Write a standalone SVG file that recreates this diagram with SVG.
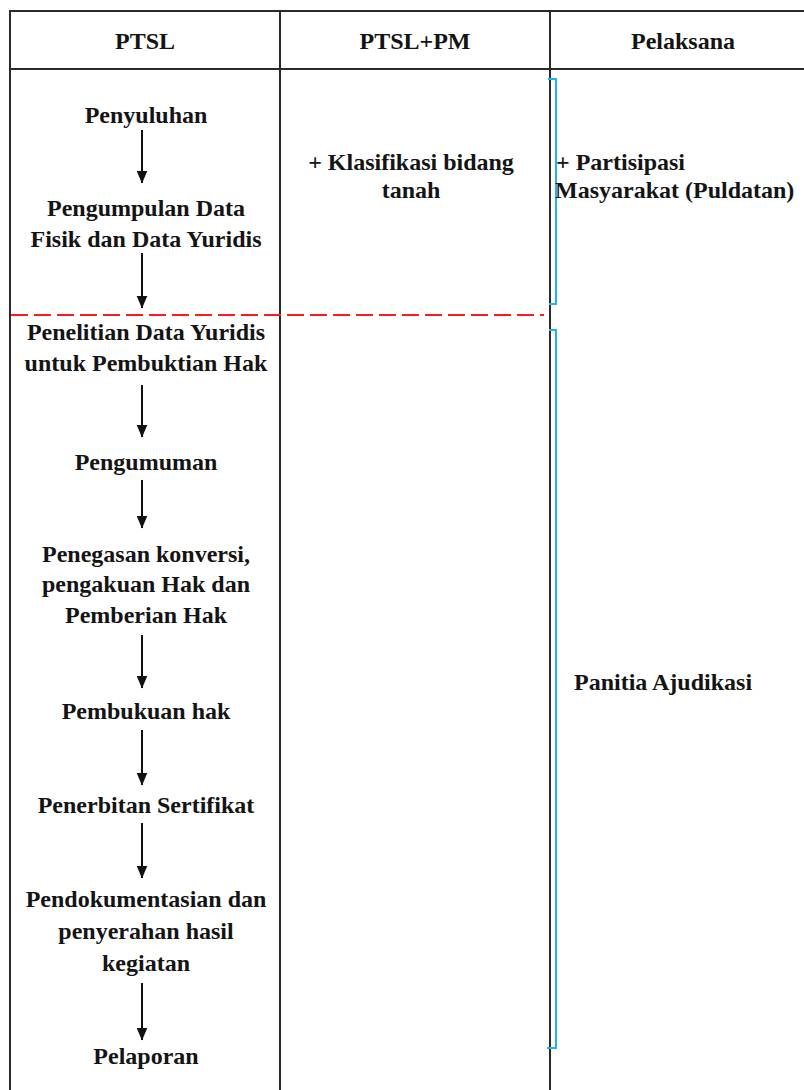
<svg xmlns="http://www.w3.org/2000/svg" width="804" height="1090" viewBox="0 0 804 1090">
<style>
  .t { font-family: "Liberation Serif", "Times New Roman", serif; font-weight: bold; font-size: 24px; fill: #141414; }
  .c { text-anchor: middle; }
  .grid { stroke: #2a2a2a; stroke-width: 2; fill: none; }
  .arrow { stroke: #111; stroke-width: 2; fill: none; marker-end: url(#ah); }
  .brk { stroke: #1fb3f2; stroke-width: 2; fill: none; }
  .dash { stroke: #ff1a1a; stroke-width: 2; stroke-dasharray: 17 6; fill: none; }
</style>
<defs>
  <marker id="ah" markerUnits="userSpaceOnUse" markerWidth="13" markerHeight="12" viewBox="0 0 13 12" refX="12.5" refY="6" orient="auto">
    <path d="M0,0.5 L13,6 L0,11.5 Z" fill="#111"/>
  </marker>
</defs>
<rect width="804" height="1090" fill="#ffffff"/>
<g id="table">
  <line class="grid" x1="10" y1="11" x2="804" y2="11"/>
  <line class="grid" x1="10" y1="69" x2="804" y2="69"/>
  <line class="grid" x1="10" y1="10" x2="10" y2="1090"/>
  <line class="grid" x1="280" y1="10" x2="280" y2="1090"/>
  <line class="grid" x1="550" y1="10" x2="550" y2="1090"/>
</g>
<g id="header">
  <text class="t c" x="145" y="49">PTSL</text>
  <text class="t c" x="415" y="49">PTSL+PM</text>
  <text class="t c" x="683" y="49">Pelaksana</text>
</g>
<g id="divider">
  <line class="dash" x1="11" y1="315" x2="544" y2="315"/>
</g>
<g id="brackets">
  <path class="brk" d="M548,79 H556 V304 H549"/>
  <path class="brk" d="M549,330 H556 V1048 H547"/>
</g>
<g id="n-penyuluhan"><text class="t c" x="146" y="123">Penyuluhan</text></g>
<g id="n-pengumpulan"><text class="t c" x="146" y="216">Pengumpulan Data</text><text class="t c" x="146" y="247">Fisik dan Data Yuridis</text></g>
<g id="n-penelitian"><text class="t c" x="146" y="340">Penelitian Data Yuridis</text><text class="t c" x="146" y="371">untuk Pembuktian Hak</text></g>
<g id="n-pengumuman"><text class="t c" x="146" y="470">Pengumuman</text></g>
<g id="n-penegasan"><text class="t c" x="146" y="562">Penegasan konversi,</text><text class="t c" x="146" y="592">pengakuan Hak dan</text><text class="t c" x="146" y="623">Pemberian Hak</text></g>
<g id="n-pembukuan"><text class="t c" x="146" y="719">Pembukuan hak</text></g>
<g id="n-penerbitan"><text class="t c" x="146" y="813">Penerbitan Sertifikat</text></g>
<g id="n-pendokumentasian"><text class="t c" x="146" y="907">Pendokumentasian dan</text><text class="t c" x="146" y="939">penyerahan hasil</text><text class="t c" x="146" y="971">kegiatan</text></g>
<g id="n-pelaporan"><text class="t c" x="146" y="1064">Pelaporan</text></g>
<g id="n-klasifikasi"><text class="t c" x="411" y="170">+ Klasifikasi bidang</text><text class="t c" x="411" y="198">tanah</text></g>
<g id="n-partisipasi"><text class="t" x="556" y="170">+ Partisipasi</text><text class="t" x="555" y="198">Masyarakat (Puldatan)</text></g>
<g id="n-panitia"><text class="t" x="574" y="690">Panitia Ajudikasi</text></g>
<g id="connectors">
  <line class="arrow" x1="142" y1="130" x2="142" y2="183"/>
  <line class="arrow" x1="142" y1="253" x2="142" y2="308"/>
  <line class="arrow" x1="142" y1="385" x2="142" y2="437"/>
  <line class="arrow" x1="142" y1="480" x2="142" y2="528"/>
  <line class="arrow" x1="142" y1="635" x2="142" y2="688"/>
  <line class="arrow" x1="142" y1="730" x2="142" y2="785"/>
  <line class="arrow" x1="142" y1="823" x2="142" y2="878"/>
  <line class="arrow" x1="142" y1="983" x2="142" y2="1040"/>
</g>
</svg>
